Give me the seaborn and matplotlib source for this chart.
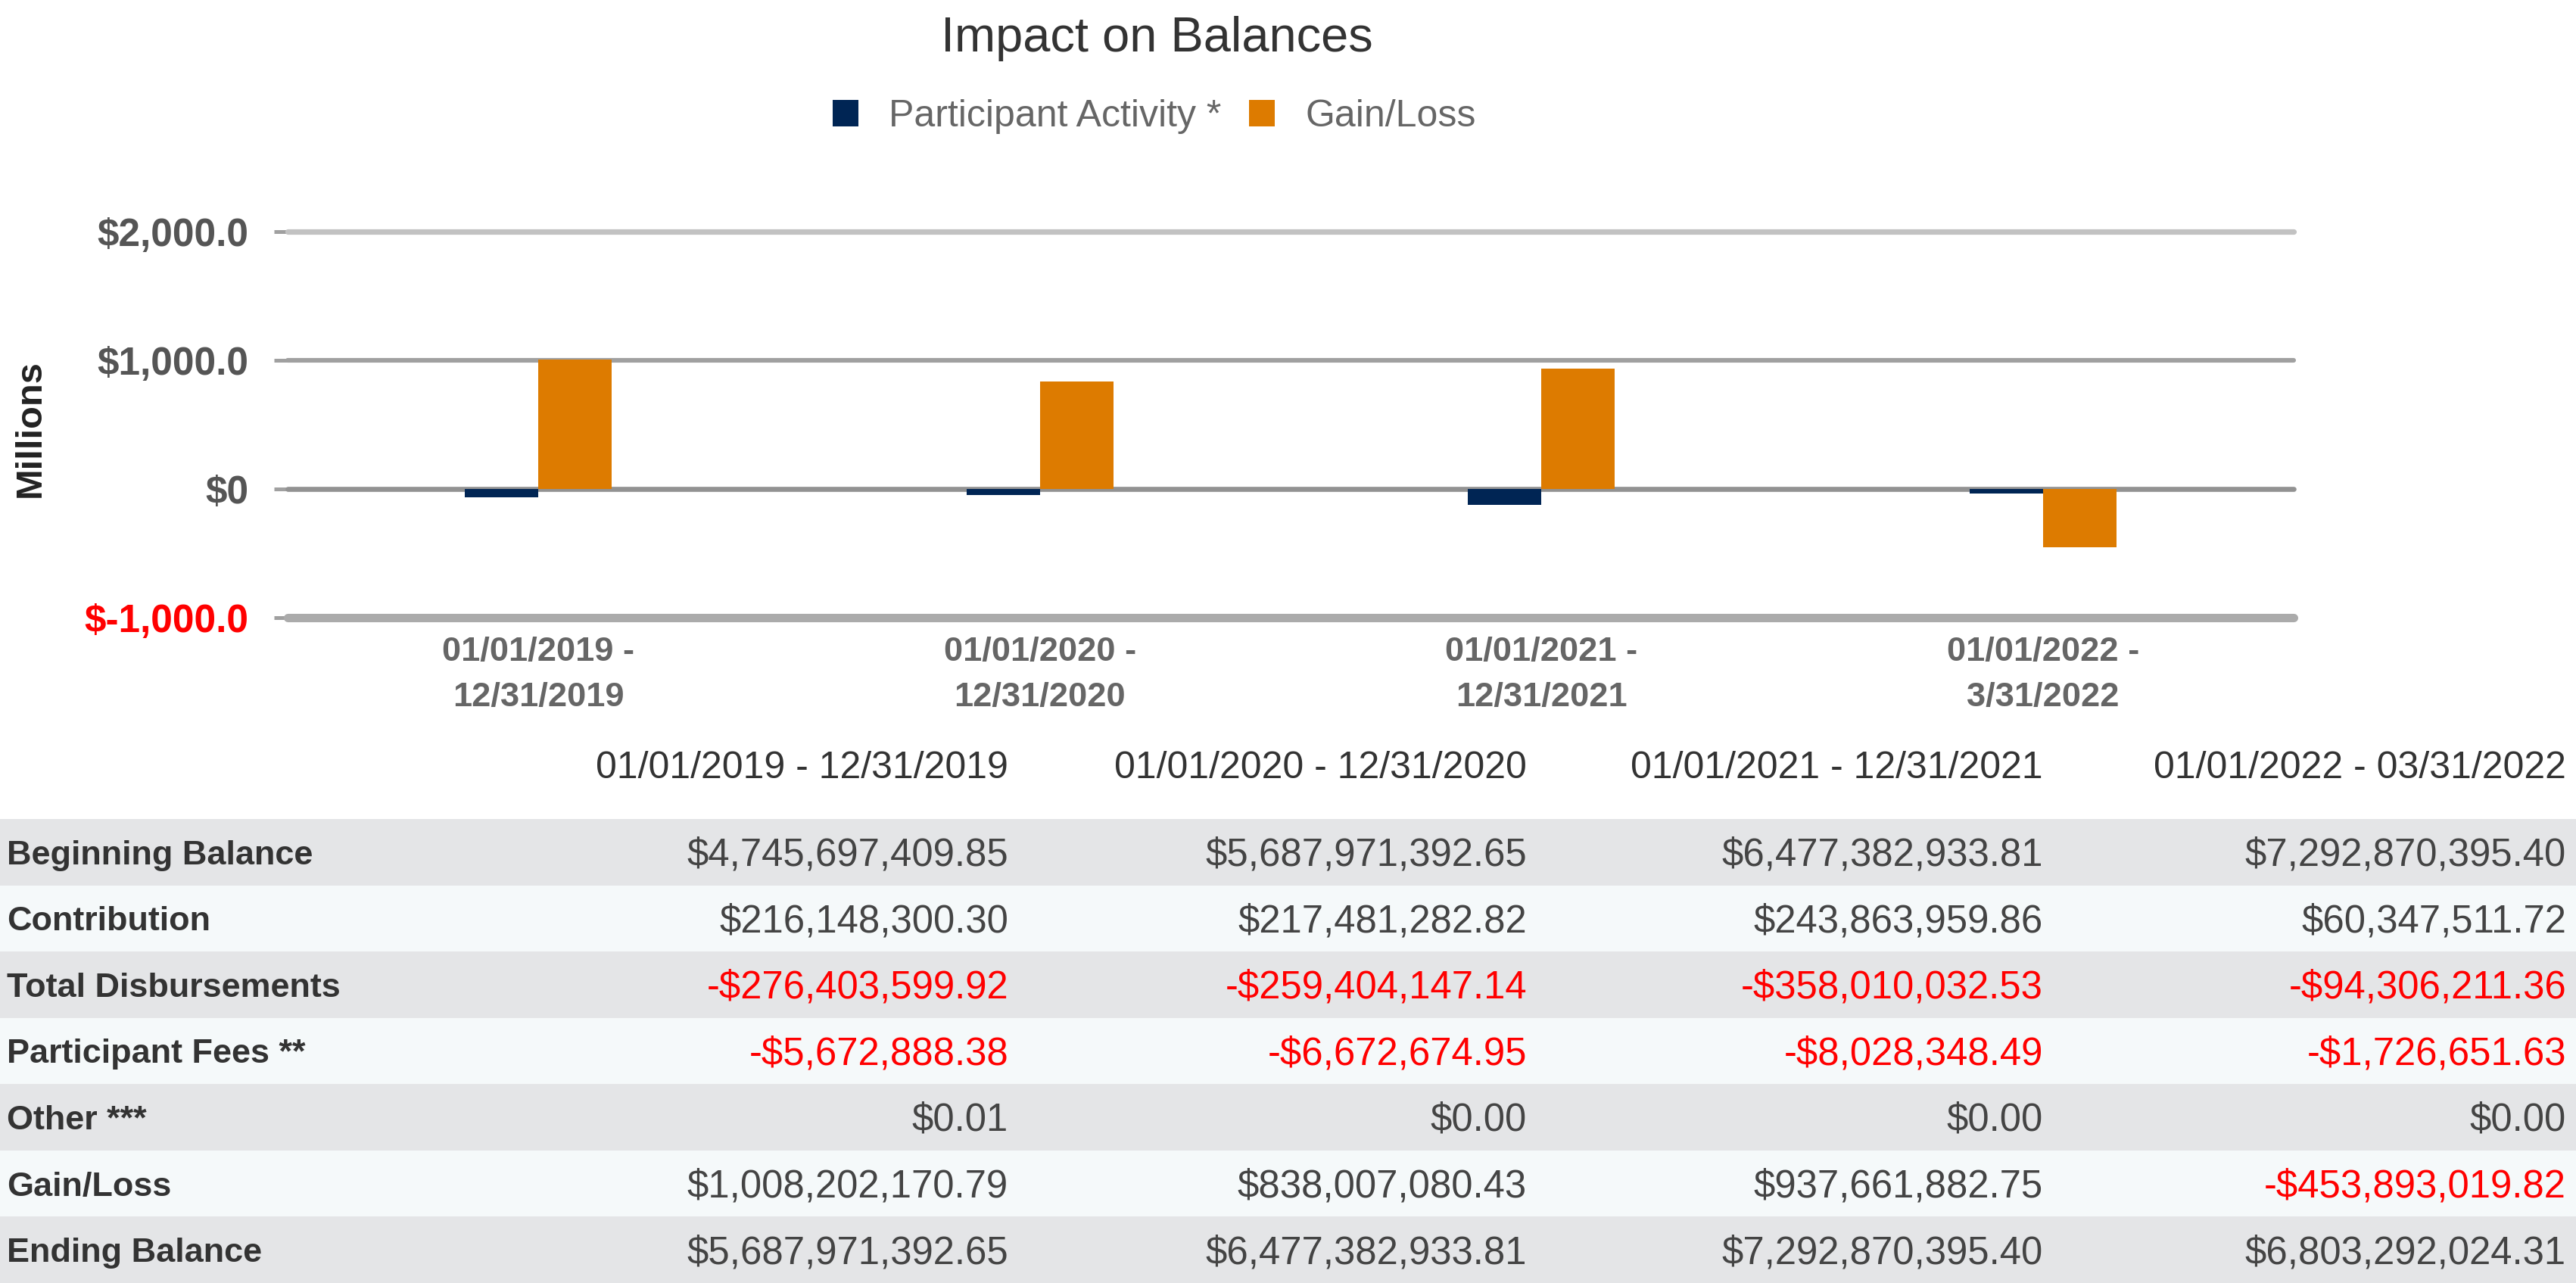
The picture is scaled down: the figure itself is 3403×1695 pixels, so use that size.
import pandas as pd
import numpy as np
import matplotlib.pyplot as plt
import seaborn as sns

# chart data (millions)
periods = ["01/01/2019 -\n12/31/2019", "01/01/2020 -\n12/31/2020",
           "01/01/2021 -\n12/31/2021", "01/01/2022 -\n3/31/2022"]
series_names = ["Participant Activity *", "Gain/Loss"]
participant_activity = [-65.9, -48.6, -122.2, -35.7]
gain_loss = [1008.2, 838.0, 937.7, -453.9]
y_ticks = [-1000, 0, 1000, 2000]
y_tick_labels = ["$-1,000.0", "$0", "$1,000.0", "$2,000.0"]

# table data
table_columns = ["01/01/2019 - 12/31/2019", "01/01/2020 - 12/31/2020",
                 "01/01/2021 - 12/31/2021", "01/01/2022 - 03/31/2022"]
row_labels = ["Beginning Balance", "Contribution", "Total Disbursements",
              "Participant Fees **", "Other ***", "Gain/Loss", "Ending Balance"]
beginning_balance = ["$4,745,697,409.85", "$5,687,971,392.65", "$6,477,382,933.81", "$7,292,870,395.40"]
contribution = ["$216,148,300.30", "$217,481,282.82", "$243,863,959.86", "$60,347,511.72"]
total_disbursements = ["-$276,403,599.92", "-$259,404,147.14", "-$358,010,032.53", "-$94,306,211.36"]
participant_fees = ["-$5,672,888.38", "-$6,672,674.95", "-$8,028,348.49", "-$1,726,651.63"]
other = ["$0.01", "$0.00", "$0.00", "$0.00"]
gain_loss_text = ["$1,008,202,170.79", "$838,007,080.43", "$937,661,882.75", "-$453,893,019.82"]
ending_balance = ["$5,687,971,392.65", "$6,477,382,933.81", "$7,292,870,395.40", "$6,803,292,024.31"]
table_rows = [beginning_balance, contribution, total_disbursements, participant_fees,
              other, gain_loss_text, ending_balance]

NAVY = "#002554"
ORANGE = "#dd7b00"

sns.set_theme(style="white")
plt.rcParams['font.family'] = ['Liberation Sans', 'DejaVu Sans']

W, H = 3403, 1695
fig = plt.figure(figsize=(W / 200, H / 200), dpi=200)
fig.patch.set_facecolor("white")

# ---- bar chart ----
ax = fig.add_axes([380 / W, 1 - 816 / H, 2650 / W, 510 / H])
df = pd.DataFrame({
    "period": periods * 2,
    "series": [series_names[0]] * len(periods) + [series_names[1]] * len(periods),
    "value": participant_activity + gain_loss,
})
sns.barplot(data=df, x="period", y="value", hue="series", palette=[NAVY, ORANGE],
            width=0.293, saturation=1, linewidth=0, ax=ax, zorder=3)

grid_colors = ["#ababab", "#929292", "#a0a0a0", "#c2c2c2"]
grid_widths = [4.0, 2.4, 2.2, 2.6]
for val, c, lw in zip(y_ticks, grid_colors, grid_widths):
    ax.axhline(val, color=c, lw=lw, zorder=1, clip_on=False)

ax.set_ylim(-1000, 2000)
ax.set_yticks(y_ticks)
ax.set_yticklabels(y_tick_labels)
ax.tick_params(axis="y", length=6.5, width=1.8, color="#a0a0a0", pad=12,
               labelsize=18.5, labelcolor="#555555", left=True)
for lbl in ax.get_yticklabels():
    lbl.set_fontweight("bold")
ax.get_yticklabels()[0].set_color("#ff0000")

ax.tick_params(axis="x", length=0, pad=9, labelsize=16.3, labelcolor="#666666")
for lbl in ax.get_xticklabels():
    lbl.set_fontweight("bold")
    lbl.set_linespacing(1.6)
ax.set_xlabel("")
ax.set_ylabel("Millions", fontsize=17.6, fontweight="bold", color="#222222")
ax.yaxis.set_label_coords(-0.1196, 0.49)
sns.despine(ax=ax, left=True, bottom=True)

handles, labels = ax.get_legend_handles_labels()
ax.get_legend().remove()
fig.legend(handles, labels, loc="center", bbox_to_anchor=(1525 / W, 1 - 154 / H),
           ncol=2, frameon=False, fontsize=18, labelcolor="#666666",
           handlelength=0.68, handleheight=0.68, handletextpad=0.8,
           columnspacing=0.74, borderpad=0, borderaxespad=0)

fig.text(1528 / W, 1 - 51 / H, "Impact on Balances", ha="center", va="center",
         fontsize=23.4, color="#333333")

# ---- table ----
tax = fig.add_axes([0, 0, 1, (H - 960) / H])
tax.set_xlim(0, W)
tax.set_ylim(7, -1.393)
tax.axis("off")

col_right = [1332, 2017, 2699, 3390]
for i in range(len(row_labels)):
    tax.axhspan(i, i + 1, color="#e4e5e7" if i % 2 == 0 else "#f5f9fa", lw=0)

for x, col in zip(col_right, table_columns):
    tax.text(x, -0.765, col, ha="right", va="center", fontsize=18, color="#333333")

for i, (label, vals) in enumerate(zip(row_labels, table_rows)):
    tax.text(9, i + 0.55, label, ha="left", va="center", fontsize=16.2,
             fontweight="bold", color="#333333")
    for x, v in zip(col_right, vals):
        tax.text(x, i + 0.55, v, ha="right", va="center", fontsize=18.3,
                 color="#ff0000" if v.startswith("-") else "#444444")

fig.savefig("out.png", dpi=200, facecolor="white")
